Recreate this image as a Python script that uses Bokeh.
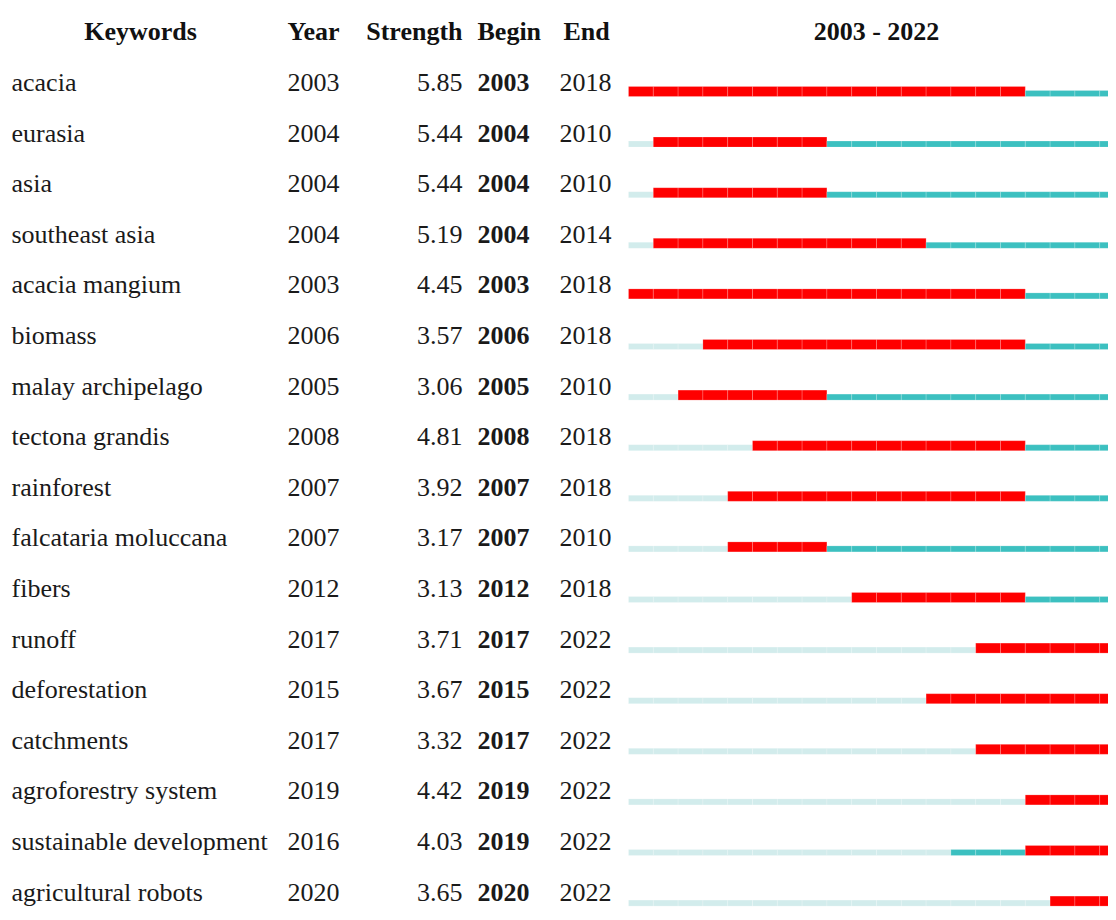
from bokeh.plotting import figure
from bokeh.models import Range1d, ColumnDataSource
from bokeh.core.properties import value
from bokeh.embed import file_html
from bokeh.resources import INLINE

keywords = ["acacia", "eurasia", "asia", "southeast asia", "acacia mangium", "biomass",
            "malay archipelago", "tectona grandis", "rainforest", "falcataria moluccana",
            "fibers", "runoff", "deforestation", "catchments", "agroforestry system",
            "sustainable development", "agricultural robots"]
years = [2003, 2004, 2004, 2004, 2003, 2006, 2005, 2008, 2007, 2007, 2012, 2017, 2015, 2017, 2019, 2016, 2020]
strength = [5.85, 5.44, 5.44, 5.19, 4.45, 3.57, 3.06, 4.81, 3.92, 3.17, 3.13, 3.71, 3.67, 3.32, 4.42, 4.03, 3.65]
begin = [2003, 2004, 2004, 2004, 2003, 2006, 2005, 2008, 2007, 2007, 2012, 2017, 2015, 2017, 2019, 2019, 2020]
end = [2018, 2010, 2010, 2014, 2018, 2018, 2010, 2018, 2018, 2010, 2018, 2022, 2022, 2022, 2022, 2022, 2022]
headers = ["Keywords", "Year", "Strength", "Begin", "End"]
span_start, span_end = 2003, 2022

W, H = 1108, 912
px_per_year = 24.8
bar_left_px = 628
ROW0, ROWH = 82, 50.6
HEAD_Y = 31

p = figure(width=W, height=H, output_backend="svg", toolbar_location=None,
           x_range=Range1d(0, W), y_range=Range1d(H, 0), min_border=0)
p.axis.visible = False
p.grid.visible = False
p.outline_line_color = None
p.background_fill_color = "white"
p.border_fill_color = "white"

yr0 = span_start - bar_left_px / px_per_year
p.extra_x_ranges = {"yr": Range1d(yr0, yr0 + W / px_per_year)}

font = value("Liberation Serif")
fs = "26px"
n = len(keywords)
rows = [ROW0 + ROWH * i for i in range(n)]

# header
hx = [140, 287, 462, 477, 563]
halign = ["center", "left", "right", "left", "left"]
for t, x, a in zip(headers, hx, halign):
    p.text(x=[x], y=[HEAD_Y], text=[t], text_font=font, text_font_size=fs,
           text_font_style="bold", text_align=a, text_baseline="middle", text_color="#111111")
p.text(x=[(span_start + span_end + 1) / 2], y=[HEAD_Y], text=[f"{span_start} - {span_end}"],
       x_range_name="yr", text_font=font, text_font_size=fs, text_font_style="bold",
       text_align="center", text_baseline="middle", text_color="#111111")

src = ColumnDataSource(dict(
    y=rows, kw=keywords, yr=[str(v) for v in years], st=[f"{v:.2f}" for v in strength],
    b=[str(v) for v in begin], e=[str(v) for v in end]))
common = dict(source=src, y="y", text_font=font, text_font_size=fs, text_baseline="middle",
              text_color="#1a1a1a")
p.text(x=11, text="kw", text_align="left", **common)
p.text(x=287, text="yr", text_align="left", **common)
p.text(x=462, text="st", text_align="right", **common)
p.text(x=477, text="b", text_align="left", text_font_style="bold", **common)
p.text(x=559, text="e", text_align="left", **common)

# bars per year
L, R, T, B, C = [], [], [], [], []
for i in range(n):
    for yv in range(span_start, span_end + 1):
        if begin[i] <= yv <= end[i]:
            col, top = "#ff0000", rows[i] + 4
        elif yv < years[i]:
            col, top = "#d2ecec", rows[i] + 8
        else:
            col, top = "#3cc0c0", rows[i] + 8
        L.append(yv); R.append(yv + 1); T.append(top); B.append(rows[i] + 14); C.append(col)
p.quad(left=L, right=R, top=T, bottom=B, fill_color=C, line_color="white",
       line_alpha=0.18, line_width=1, x_range_name="yr")

open("out.html", "w").write(file_html(p, INLINE))
